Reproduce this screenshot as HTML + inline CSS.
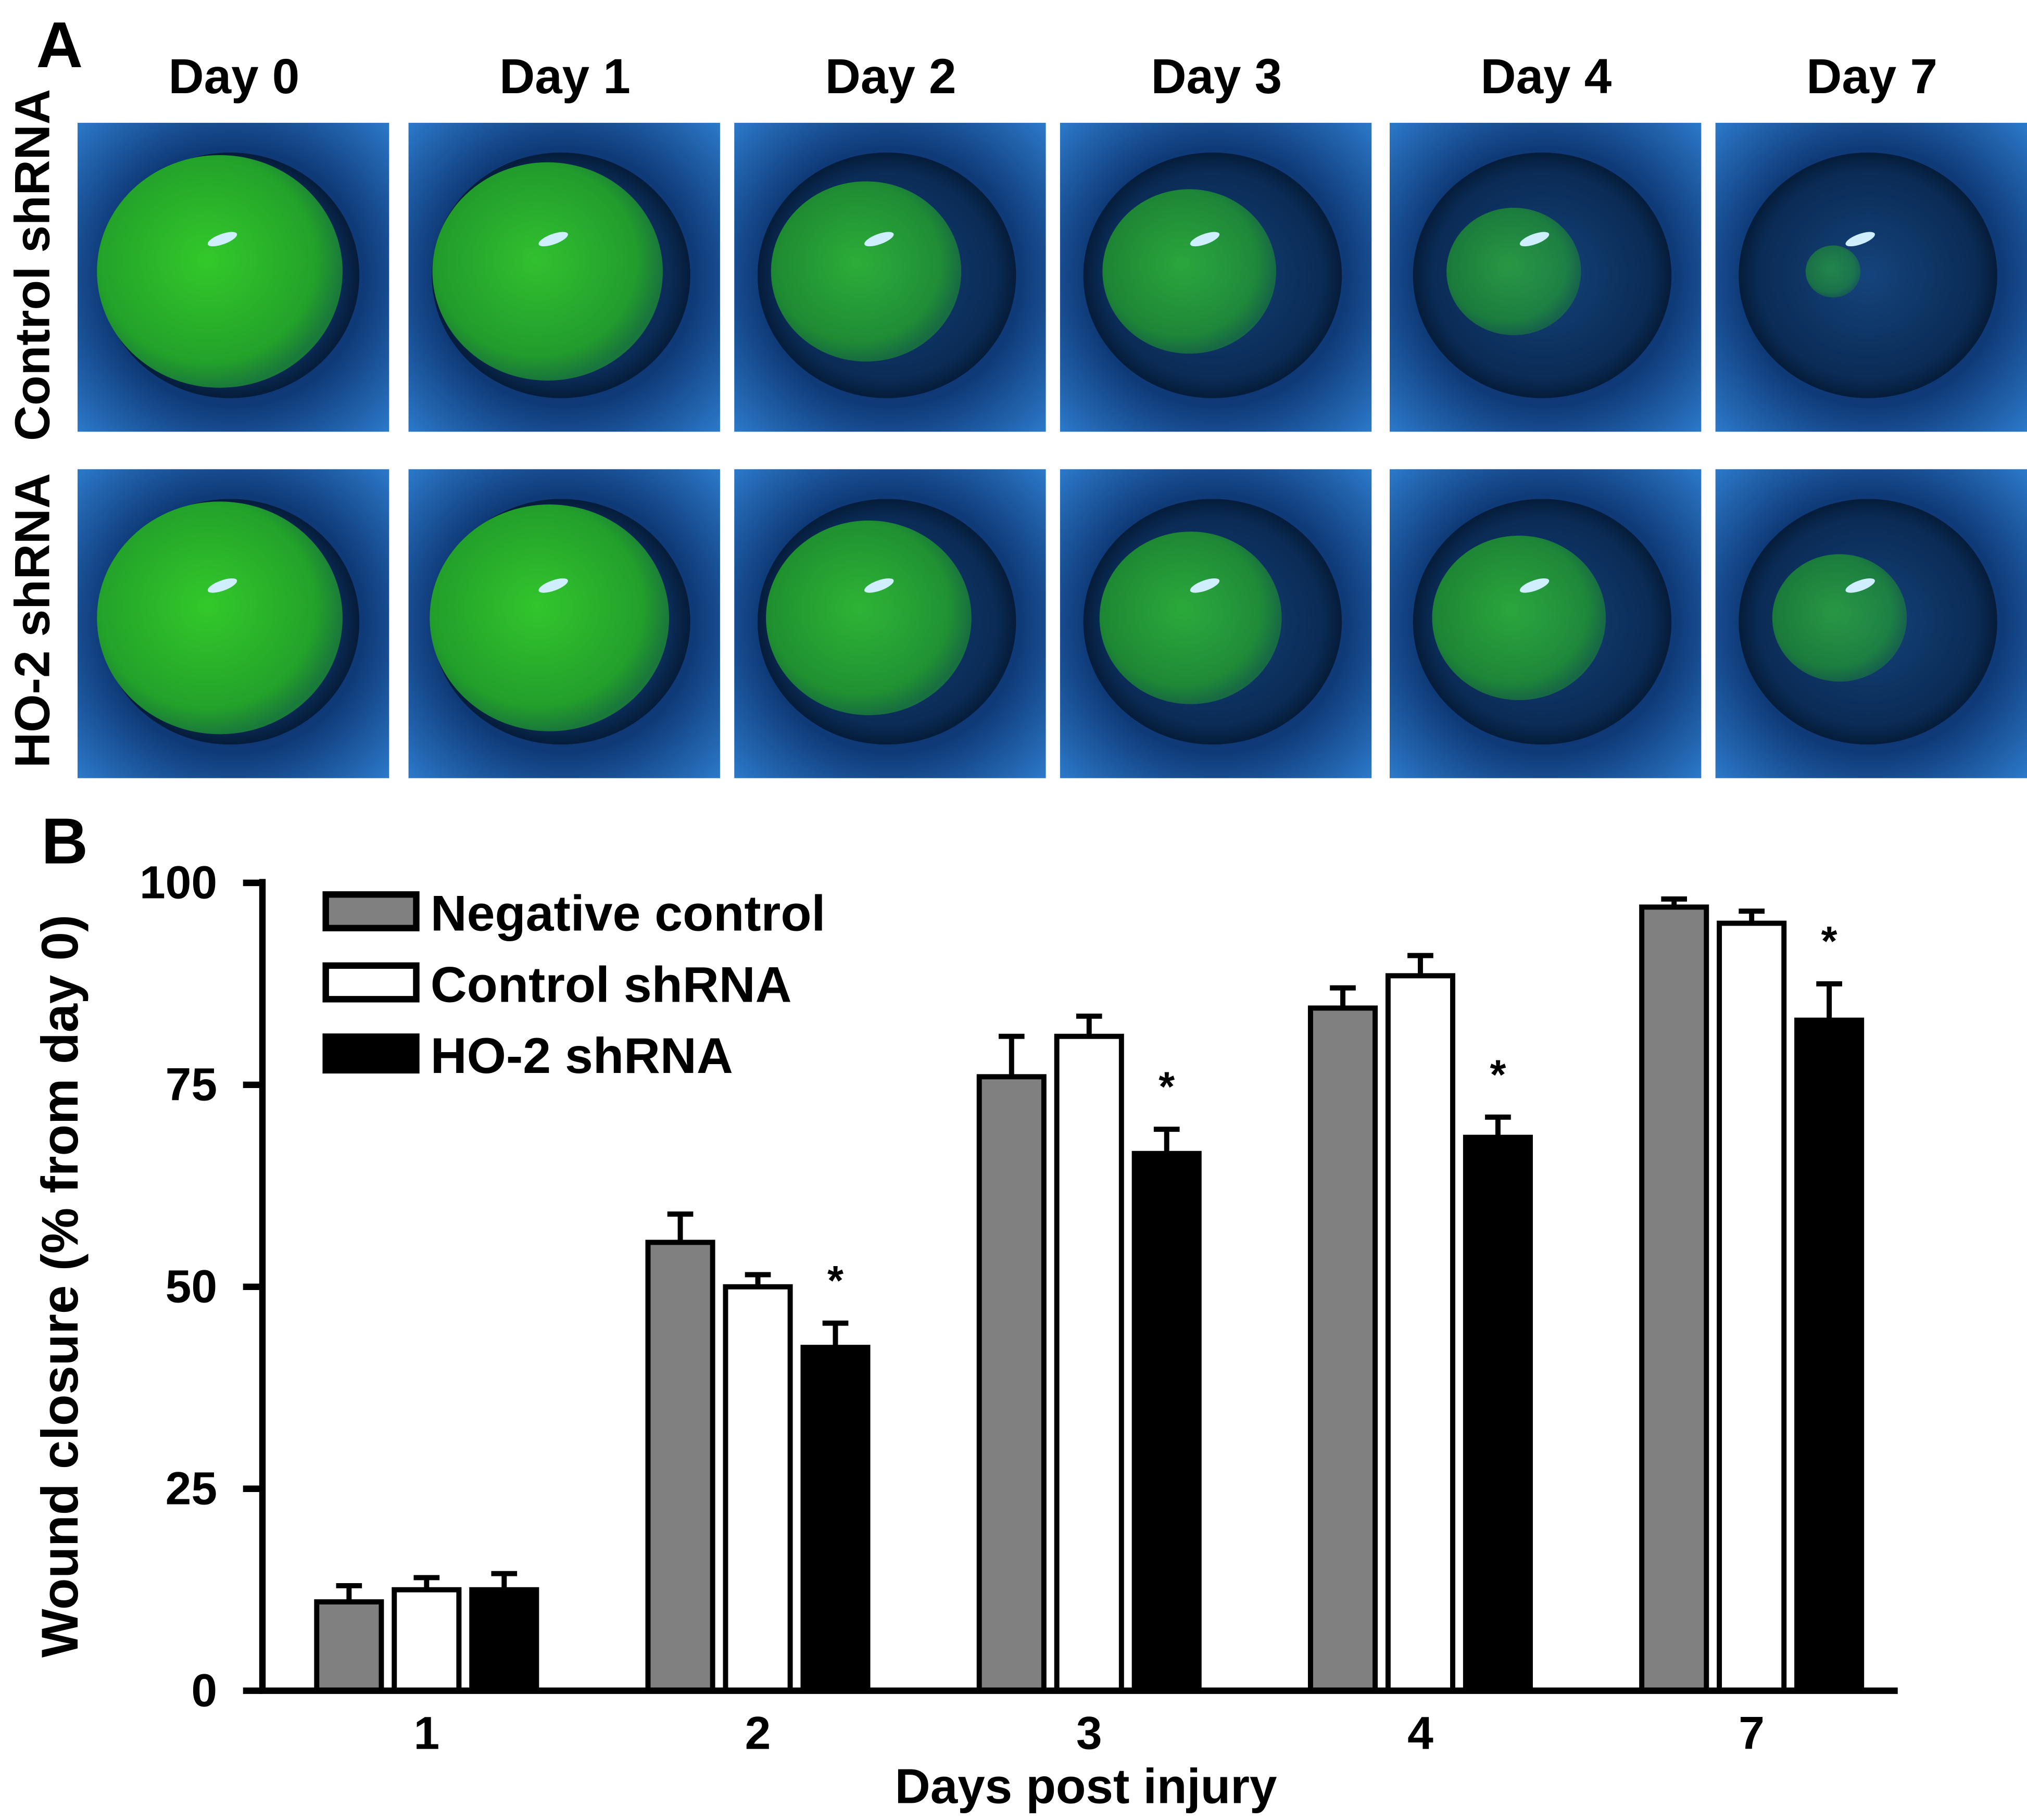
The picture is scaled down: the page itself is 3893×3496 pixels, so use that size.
<!DOCTYPE html>
<html><head><meta charset="utf-8"><style>
html,body{margin:0;padding:0;background:#fff;width:3893px;height:3496px;overflow:hidden}
svg{display:block}
text{font-family:"Liberation Sans Narrow","Liberation Sans",sans-serif;font-weight:bold;fill:#000}
</style></head><body>
<svg id="fig" width="3893" height="3496" viewBox="0 0 1568 1408" preserveAspectRatio="none" xmlns="http://www.w3.org/2000/svg">
<defs>
<radialGradient id="bg" cx="50%" cy="50%" r="70%"><stop offset="0" stop-color="#0a2a5c"/><stop offset="0.6" stop-color="#0f3a78"/><stop offset="1" stop-color="#2b78c8"/></radialGradient>
<radialGradient id="eye" cx="50%" cy="50%" r="50%"><stop offset="0" stop-color="#15447c"/><stop offset="0.85" stop-color="#0a2b55"/><stop offset="1" stop-color="#061c3a"/></radialGradient>
<radialGradient id="grn" cx="45%" cy="45%" r="55%"><stop offset="0" stop-color="#33c92a"/><stop offset="0.8" stop-color="#23a22a"/><stop offset="1" stop-color="#1a7a3a"/></radialGradient>
</defs>
<text x="28" y="52" font-size="50">A</text>
<g id="photos"></g>
<text transform="translate(38,205) rotate(-90)" text-anchor="middle" font-size="38">Control shRNA</text>
<text transform="translate(38,480) rotate(-90)" text-anchor="middle" font-size="38">HO-2 shRNA</text>
<text x="32" y="668" font-size="50">B</text>
<g id="chart"></g>
</svg>
<script>
const NS="http://www.w3.org/2000/svg";
function mk(tag,attrs,parent){const e=document.createElementNS(NS,tag);for(const k in attrs)e.setAttribute(k,attrs[k]);parent.appendChild(e);return e;}
const dayLabels=["Day 0","Day 1","Day 2","Day 3","Day 4","Day 7"];
const colX=[60,316,568,820,1075,1327];
const greenCtrl=[1,0.88,0.6,0.5,0.3,0.05];
const greenHO=[1,0.95,0.7,0.55,0.5,0.3];
const ph=document.getElementById('photos');
dayLabels.forEach((d,i)=>{
  const t=mk('text',{x:colX[i]+121,y:72,'text-anchor':'middle','font-size':38},ph);t.textContent=d;
  
  
  [[95,greenCtrl[i]],[363,greenHO[i]]].forEach(([y,g])=>{
    const gr=mk('g',{},ph);
    
    
    mk('rect',{x:colX[i],y:y,width:241,height:239,fill:'url(#bg)'},gr);
    mk('ellipse',{cx:colX[i]+118,cy:y+118,rx:100,ry:95,fill:'url(#eye)'},gr);
    if(g>0.04) mk('ellipse',{cx:colX[i]+110-(1-g)*20,cy:y+115,rx:95*Math.sqrt(g),ry:90*Math.sqrt(g),fill:'url(#grn)',opacity:0.5+0.5*g},gr);
    mk('ellipse',{cx:colX[i]+112,cy:y+90,rx:12,ry:4,fill:'#cfefff',transform:`rotate(-20 ${colX[i]+112} ${y+90})`},gr);
  });
});
const categories=["1","2","3","4","7"];
const seriesNames=["Negative control","Control shRNA","HO-2 shRNA"];
const negCtrl=[11,55.5,76,84.5,97];
const ctrlSh=[12.5,50,81,88.5,95];
const ho2Sh=[12.5,42.5,66.5,68.5,83];
const negErr=[2,3.5,5,2.5,1];
const ctrlErr=[1.5,1.5,2.5,2.5,1.5];
const hoErr=[2,3,3,2.5,4.5];
const significant=[false,true,true,true,true];
const yTicks=[0,25,50,75,100];
const fills=["#808080","#ffffff","#000000"];
const series=[negCtrl,ctrlSh,ho2Sh], errs=[negErr,ctrlErr,hoErr];
const X0=203,X1=1468,Y0=1308,Y100=683;
const y=v=>Y0+(Y100-Y0)*v/100;
const catX=i=>330+i*256.25;
const barW=54,step=60;
const ch=document.getElementById('chart');
categories.forEach((c,i)=>{
  series.forEach((s,j)=>{
    const cx=catX(i)+(j-1)*step, top=y(s[i]), et=y(s[i]+errs[j][i]);
    const eb=mk('path',{d:`M${cx} ${top} V${et} M${cx-10} ${et} H${cx+10}`,stroke:'#000','stroke-width':4,fill:'none'},ch);
    
    
    const r=mk('rect',{x:cx-barW/2+2,y:top,width:barW-4,height:Y0-top,fill:fills[j],stroke:'#000','stroke-width':4},ch);
    
    
  });
  if(significant[i]){
    const cx=catX(i)+step;
    const st=mk('text',{x:cx,y:y(ho2Sh[i]+hoErr[i])-22,'text-anchor':'middle','font-size':32},ch);st.textContent='*';
    
    
  }
  const t=mk('text',{x:catX(i),y:Y0+45,'text-anchor':'middle','font-size':36},ch);t.textContent=c;
  
  
});
yTicks.forEach(v=>{
  const tk=mk('line',{x1:188,x2:X0,y1:y(v),y2:y(v),stroke:'#000','stroke-width':5},ch);
  
  
  const t=mk('text',{x:168,y:y(v)+12,'text-anchor':'end','font-size':36},ch);t.textContent=v;
  
  
});
const ax=mk('path',{d:`M${X0} ${Y100-3} V${Y0} H${X1}`,stroke:'#000','stroke-width':5,fill:'none'},ch);


seriesNames.forEach((n,j)=>{
  const ly=690+j*55;
  const r=mk('rect',{x:252,y:ly+2,width:70,height:26,fill:fills[j],stroke:'#000','stroke-width':5},ch);
  
  
  const t=mk('text',{x:333,y:ly+30,'font-size':39},ch);t.textContent=n;
  
  
});
const yt=mk('text',{transform:'translate(60,995) rotate(-90)','text-anchor':'middle','font-size':40},ch);yt.textContent='Wound closure (% from day 0)';


const xt=mk('text',{x:840,y:1395,'text-anchor':'middle','font-size':38},ch);xt.textContent='Days post injury';


</script>
</body></html>
